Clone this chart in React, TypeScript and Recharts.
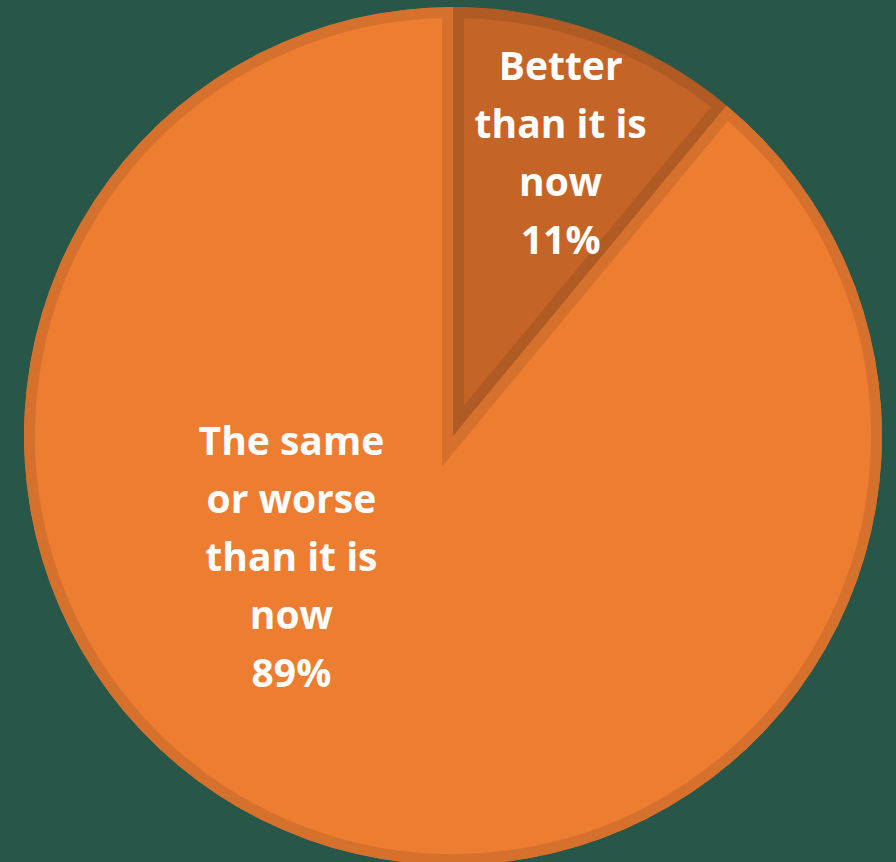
import React from 'react';
import { PieChart, Pie, Cell, Sector } from 'recharts';

const categories = ['Better than it is now', 'The same or worse than it is now'];
const shares = [11, 89];
const labelLines = [
    ['Better', 'than it is', 'now', '11%'],
    ['The same', 'or worse', 'than it is', 'now', '89%'],
];

const fills = ['#c46527', '#ed7d31'];
const bands = ['#b05b23', '#d6712d'];
// where Excel put each label (distance as fraction of radius, angle in degrees)
const labelSpots = [
    { r: 0.71, a: 69.3 },
    { r: 0.468, a: 216.4 },
];

const data = categories.map((name, i) => ({ name, value: shares[i] }));

const RAD = Math.PI / 180;

// sector with an inner border, like the Office chart style
const BandSector = (props: any) => {
    const id = `band-clip-${props.index ?? props.name}`.replace(/\s+/g, '-');
    return (
        <g>
            <defs>
                <clipPath id={id}>
                    <Sector {...props} stroke="none" />
                </clipPath>
            </defs>
            <Sector {...props} strokeWidth={22} clipPath={`url(#${id})`} />
        </g>
    );
};

const renderLabel = (props: any) => {
    const { cx, cy, outerRadius, index } = props;
    const spot = labelSpots[index];
    const x = cx + outerRadius * spot.r * Math.cos(spot.a * RAD);
    const y = cy - outerRadius * spot.r * Math.sin(spot.a * RAD);
    const lines = labelLines[index];
    const lh = 58;
    const top = y - ((lines.length - 1) * lh) / 2;
    return (
        <text
            x={x}
            y={top}
            fill="#ffffff"
            textAnchor="middle"
            dominantBaseline="central"
            fontFamily="'Open Sans', sans-serif"
            fontWeight={700}
            fontSize={39}
        >
            {lines.map((l, i) => (
                <tspan key={i} x={x} y={top + i * lh}>
                    {l}
                </tspan>
            ))}
        </text>
    );
};

const App: React.FC = () => {
    return (
        <div style={{ position: 'absolute', left: 0, top: 0, width: 896, height: 862, background: '#285749' }}>
            <PieChart width={896} height={862} margin={{ top: 0, right: 0, bottom: 0, left: 0 }}>
                <Pie
                    data={data}
                    dataKey="value"
                    nameKey="name"
                    cx={453}
                    cy={436}
                    innerRadius={0}
                    outerRadius={429}
                    startAngle={90}
                    endAngle={-270}
                    label={renderLabel}
                    labelLine={false}
                    shape={BandSector}
                    isAnimationActive={false}
                >
                    {data.map((d, i) => (
                        <Cell key={d.name} fill={fills[i]} stroke={bands[i]} />
                    ))}
                </Pie>
            </PieChart>
        </div>
    );
};

export default App;
